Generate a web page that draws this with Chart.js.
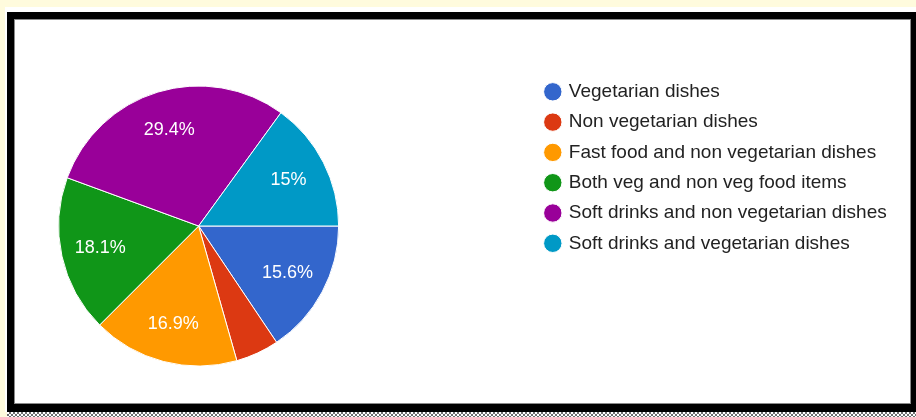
<!DOCTYPE html>
<html>
<head>
<meta charset="utf-8">
<script src="https://cdn.jsdelivr.net/npm/chart.js@4/dist/chart.umd.min.js"></script>
<style>
  html, body { margin: 0; padding: 0; width: 916px; height: 417px; overflow: hidden; background: #fffbdd; }
  #sheet { position: absolute; left: 5px; top: 7px; width: 911px; height: 405px; background: #fff; }
  #frame { position: absolute; left: 7px; top: 12px; width: 909px; height: 400px; background: #000; }
  #panel { position: absolute; left: 15px; top: 20px; width: 895px; height: 383px; background: #fff; box-shadow: 0 0 0 1px #8a8a8a; }
  #dots { position: absolute; left: 7px; top: 412px; width: 909px; height: 5px;
          background: repeating-conic-gradient(#6f6f6f 0 25%, #ffffff 0 50%) 0 0 / 4px 4px; }
  canvas { position: absolute; left: 0; top: 0; }
</style>
</head>
<body>
<div id="sheet"></div>
<div id="frame"></div>
<div id="panel"></div>
<div id="dots"></div>
<canvas id="c" width="916" height="417"></canvas>
<script>
// Food preference survey: share of answers per option (percent)
const categories = [
  'Vegetarian dishes',
  'Non vegetarian dishes',
  'Fast food and non vegetarian dishes',
  'Both veg and non veg food items',
  'Soft drinks and non vegetarian dishes',
  'Soft drinks and vegetarian dishes'
];
const shares = [15.6, 5.0, 16.9, 18.1, 29.4, 15.0];
const sliceColors = ['#3366cc', '#dc3912', '#ff9900', '#109618', '#990099', '#0099c6'];

const FONT = "'Liberation Sans', Arial, sans-serif";
Chart.defaults.font.family = FONT;

// Keeps the legend column at a fixed x, away from the pie
const LEGEND_LEFT = 535;
const legendPlacement = {
  id: 'legendPlacement',
  afterLayout(chart) {
    const lg = chart.legend;
    const w = lg.right - lg.left;
    lg.left = LEGEND_LEFT;
    lg.right = LEGEND_LEFT + w;
  }
};

// Percentage text inside each slice that is large enough to hold it
const sliceLabels = {
  id: 'sliceLabels',
  afterDatasetsDraw(chart) {
    const ctx = chart.ctx;
    const meta = chart.getDatasetMeta(0);
    ctx.save();
    ctx.font = '18px ' + FONT;
    ctx.fillStyle = '#ffffff';
    ctx.textAlign = 'center';
    ctx.textBaseline = 'middle';
    meta.data.forEach((arc, i) => {
      const v = shares[i];
      if (v < 8) return;
      const p = arc.getProps(['x', 'y', 'startAngle', 'endAngle', 'outerRadius'], true);
      const mid = (p.startAngle + p.endAngle) / 2;
      const r = p.outerRadius * 0.72;
      ctx.fillText(v + '%', p.x + Math.cos(mid) * r, p.y + Math.sin(mid) * r);
    });
    ctx.restore();
  }
};

new Chart(document.getElementById('c'), {
  type: 'pie',
  data: {
    labels: categories,
    datasets: [{
      data: shares,
      backgroundColor: sliceColors,
      borderColor: '#ffffff',
      borderWidth: 1,
      radius: 140
    }]
  },
  options: {
    responsive: false,
    devicePixelRatio: 1,
    animation: false,
    events: [],
    rotation: 90,
    layout: { padding: { left: 6, top: 71, bottom: 36, right: 163 } },
    plugins: {
      tooltip: { enabled: false },
      legend: {
        position: 'right',
        align: 'start',
        labels: {
          usePointStyle: true,
          pointStyle: 'circle',
          boxWidth: 13,
          boxHeight: 13,
          padding: 11.3,
          color: '#222222',
          font: { size: 19, family: FONT }
        }
      }
    }
  },
  plugins: [legendPlacement, sliceLabels]
});
</script>
</body>
</html>
